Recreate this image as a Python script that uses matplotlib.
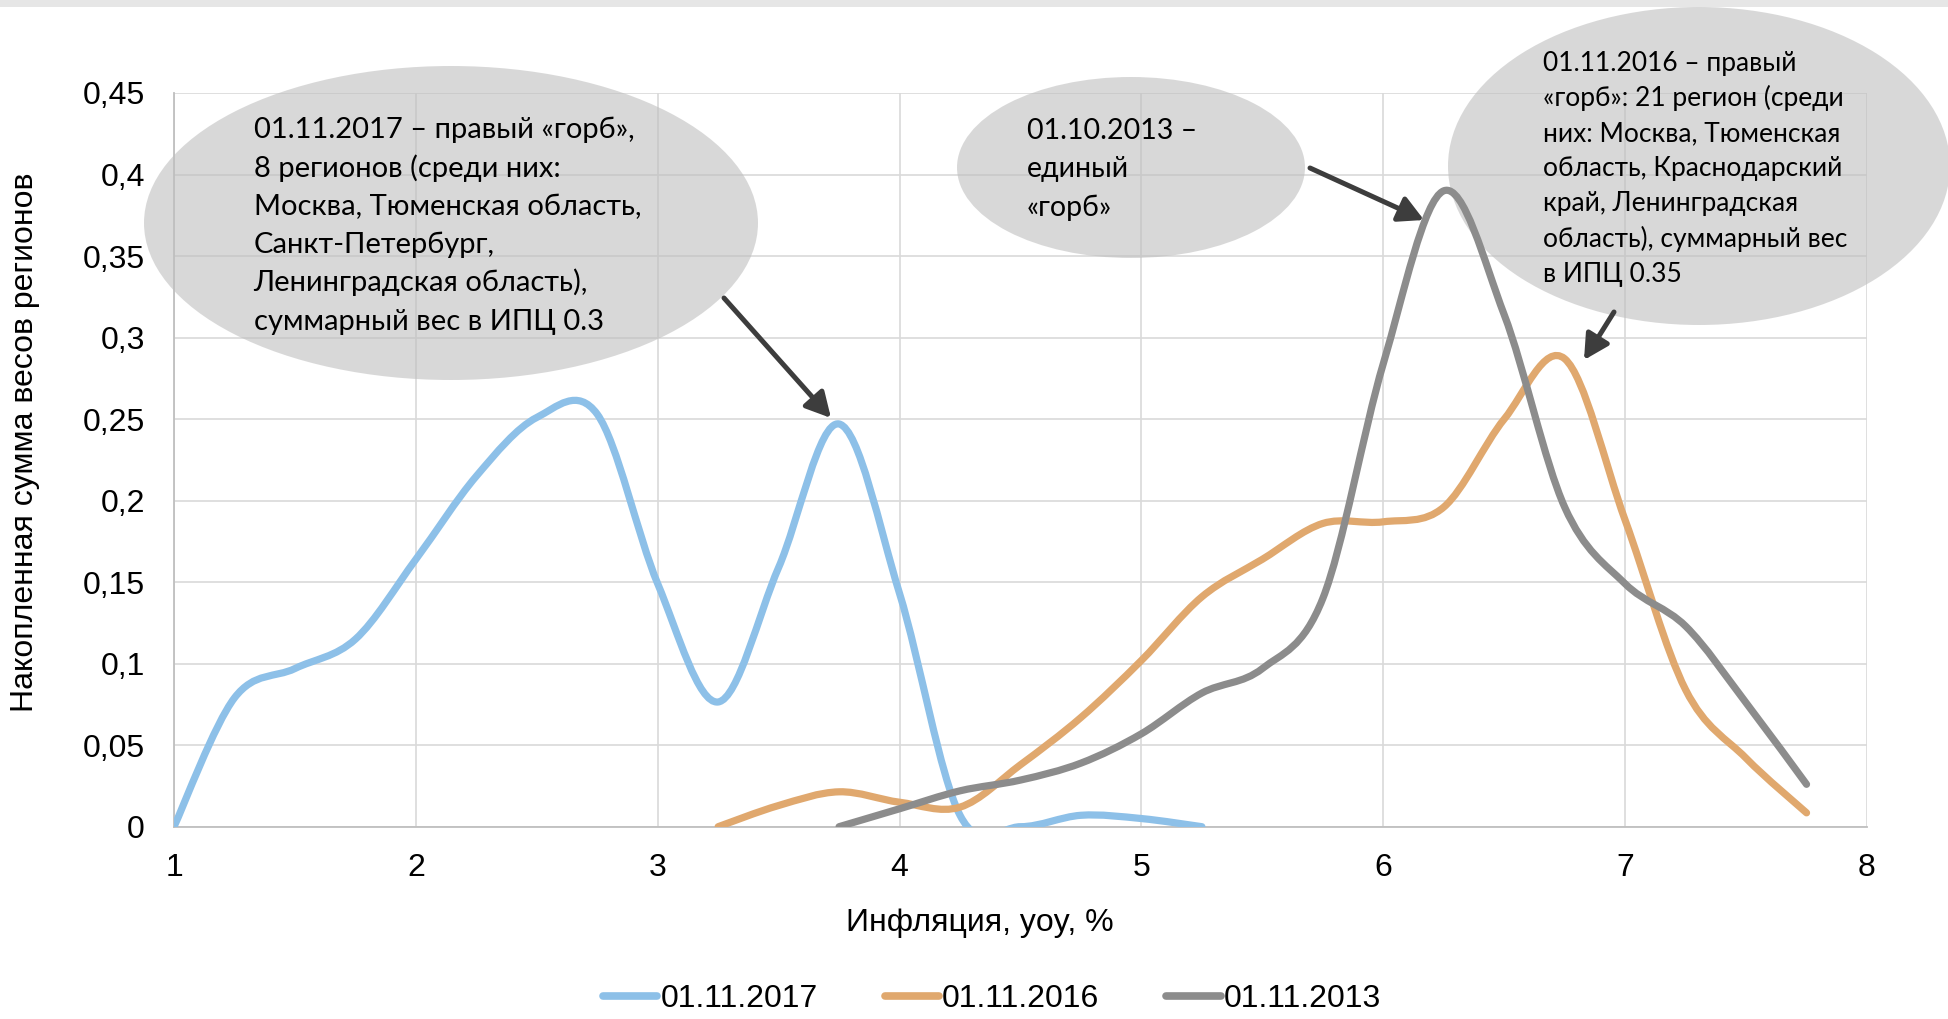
import numpy as np
import matplotlib
matplotlib.use("Agg")
import matplotlib.pyplot as plt
from matplotlib.path import Path
from matplotlib.patches import PathPatch, Ellipse, FancyArrowPatch, Rectangle
from matplotlib.lines import Line2D

plt.rcParams["font.family"] = ["Liberation Sans", "DejaVu Sans"]

# data
x_2017 = [1.0, 1.25, 1.5, 1.75, 2.0, 2.25, 2.5, 2.75, 3.0, 3.25, 3.5, 3.75, 4.0, 4.25, 4.5, 4.75, 5.0, 5.25]
y_2017 = [0.0, 0.079, 0.097, 0.115, 0.164, 0.215, 0.251, 0.253, 0.149, 0.0765, 0.159, 0.247, 0.143, 0.007, 0.0, 0.007, 0.005, 0.0]

x_2016 = [3.25, 3.5, 3.75, 4.0, 4.25, 4.5, 4.75, 5.0, 5.25, 5.5, 5.75, 6.0, 6.25, 6.5, 6.75, 7.0, 7.25, 7.5, 7.75]
y_2016 = [0.0, 0.013, 0.0214, 0.015, 0.012, 0.038, 0.067, 0.102, 0.141, 0.164, 0.186, 0.187, 0.196, 0.25, 0.287, 0.188, 0.084, 0.042, 0.0085]

x_2013 = [3.75, 4.0, 4.25, 4.5, 4.75, 5.0, 5.25, 5.5, 5.75, 6.0, 6.25, 6.5, 6.75, 7.0, 7.25, 7.5, 7.75]
y_2013 = [0.0, 0.011, 0.022, 0.0286, 0.039, 0.057, 0.082, 0.097, 0.140, 0.284, 0.390, 0.314, 0.196, 0.149, 0.123, 0.076, 0.026]

series_labels = ["01.11.2017", "01.11.2016", "01.11.2013"]
colors = ["#8dc0e8", "#e0a86e", "#8c8c8c"]

x_ticks = [1, 2, 3, 4, 5, 6, 7, 8]
y_ticks = [0, 0.05, 0.1, 0.15, 0.2, 0.25, 0.3, 0.35, 0.4, 0.45]
y_tick_labels = ["0", "0,05", "0,1", "0,15", "0,2", "0,25", "0,3", "0,35", "0,4", "0,45"]

x_label = "Инфляция, yoy, %"
y_label = "Накопленная сумма весов регионов"

note_2017 = ["01.11.2017 – правый «горб»,", "8 регионов (среди них:", "Москва, Тюменская область,",
             "Санкт-Петербург,", "Ленинградская область),", "суммарный вес в ИПЦ 0.3"]
note_2013 = ["01.10.2013 –", "единый", "«горб»"]
note_2016 = ["01.11.2016 – правый", "«горб»: 21 регион (среди", "них: Москва, Тюменская",
             "область, Краснодарский", "край, Ленинградская", "область), суммарный вес", "в ИПЦ 0.35"]

W, H = 1948, 1019


def fx(px):
    return px / W


def fy(py):
    return 1 - py / H


def smooth_path(xs, ys):
    # Excel-style smoothed line: cubic Bezier segments with Catmull-Rom control points
    p = np.column_stack([xs, ys])
    pad = np.vstack([p[:1], p, p[-1:]])
    verts = [p[0]]
    codes = [Path.MOVETO]
    for i in range(len(p) - 1):
        p0, p1, p2, p3 = pad[i], pad[i + 1], pad[i + 2], pad[i + 3]
        verts += [p1 + (p2 - p0) / 6, p2 - (p3 - p1) / 6, p2]
        codes += [Path.CURVE4] * 3
    return Path(verts, codes)


fig = plt.figure(figsize=(W / 100, H / 100), dpi=100)
fig.patches.append(Rectangle((0, fy(7)), 1, 7 / H, transform=fig.transFigure,
                             facecolor="#e6e6e6", edgecolor="none"))
ax = fig.add_axes([fx(174), fy(826.7), fx(1867) - fx(174), fy(93) - fy(826.7)])

ax.set_xlim(1, 8)
ax.set_ylim(0, 0.45)
ax.set_xticks(x_ticks)
ax.set_yticks(y_ticks)
ax.set_yticklabels(y_tick_labels)
ax.tick_params(length=0, labelsize=23, colors="black")
ax.tick_params(axis="x", pad=19)
ax.tick_params(axis="y", pad=21)
ax.set_axisbelow(True)
ax.grid(True, color="#d9d9d9", lw=1.2)
for s in ("top", "right"):
    ax.spines[s].set_visible(False)
for s in ("left", "bottom"):
    ax.spines[s].set_color("#bfbfbf")
    ax.spines[s].set_linewidth(1.3)

for xs, ys, c in zip([x_2017, x_2016, x_2013], [y_2017, y_2016, y_2013], colors):
    ax.add_patch(PathPatch(smooth_path(xs, ys), facecolor="none", edgecolor=c, lw=5.2,
                           capstyle="round", joinstyle="round", zorder=3))

# callout ellipses (figure pixel positions)
for cx, cy, w, h in [(451, 223, 614, 314), (1131, 167.5, 348, 181), (1699, 166, 502, 318)]:
    ax.add_patch(Ellipse((fx(cx), fy(cy)), w / W, h / H, transform=fig.transFigure,
                         facecolor="#bfbfbf", alpha=0.6, edgecolor="none",
                         clip_on=False, zorder=2))

note_font = "Lato"
for lines, left, base, step, size in [(note_2017, 253.6, 138.3, 38.3, 21),
                                      (note_2013, 1027, 139, 38.5, 20.5),
                                      (note_2016, 1542.6, 71, 35.1, 19)]:
    for i, line in enumerate(lines):
        fig.text(fx(left), fy(base + i * step), line, fontsize=size, family=note_font,
                 va="baseline", ha="left", color="black", zorder=5)

for (x0, y0), (x1, y1) in [((724, 298), (831, 418)), ((1310, 168), (1424, 220)),
                           ((1614, 312), (1584, 360))]:
    fig.patches.append(FancyArrowPatch((fx(x0), fy(y0)), (fx(x1), fy(y1)),
                                       transform=fig.transFigure,
                                       arrowstyle="-|>,head_length=0.75,head_width=0.4",
                                       mutation_scale=20, color="#3d3d3d", lw=3.6,
                                       shrinkA=0, shrinkB=0))

fig.text(fx(25), fy(442), y_label, rotation=90, fontsize=23, ha="center", va="center")
fig.text(fx(980), fy(923), x_label, fontsize=23, ha="center", va="center")

handles = [Line2D([], [], color=c, lw=5.5, solid_capstyle="round") for c in colors]
fig.legend(handles, series_labels, loc="center", bbox_to_anchor=(fx(992), fy(999)),
           ncol=3, frameon=False, fontsize=23, handlelength=1.7, handletextpad=0.1,
           columnspacing=2.1, borderpad=0, borderaxespad=0)

fig.savefig("out.png", dpi=100)
